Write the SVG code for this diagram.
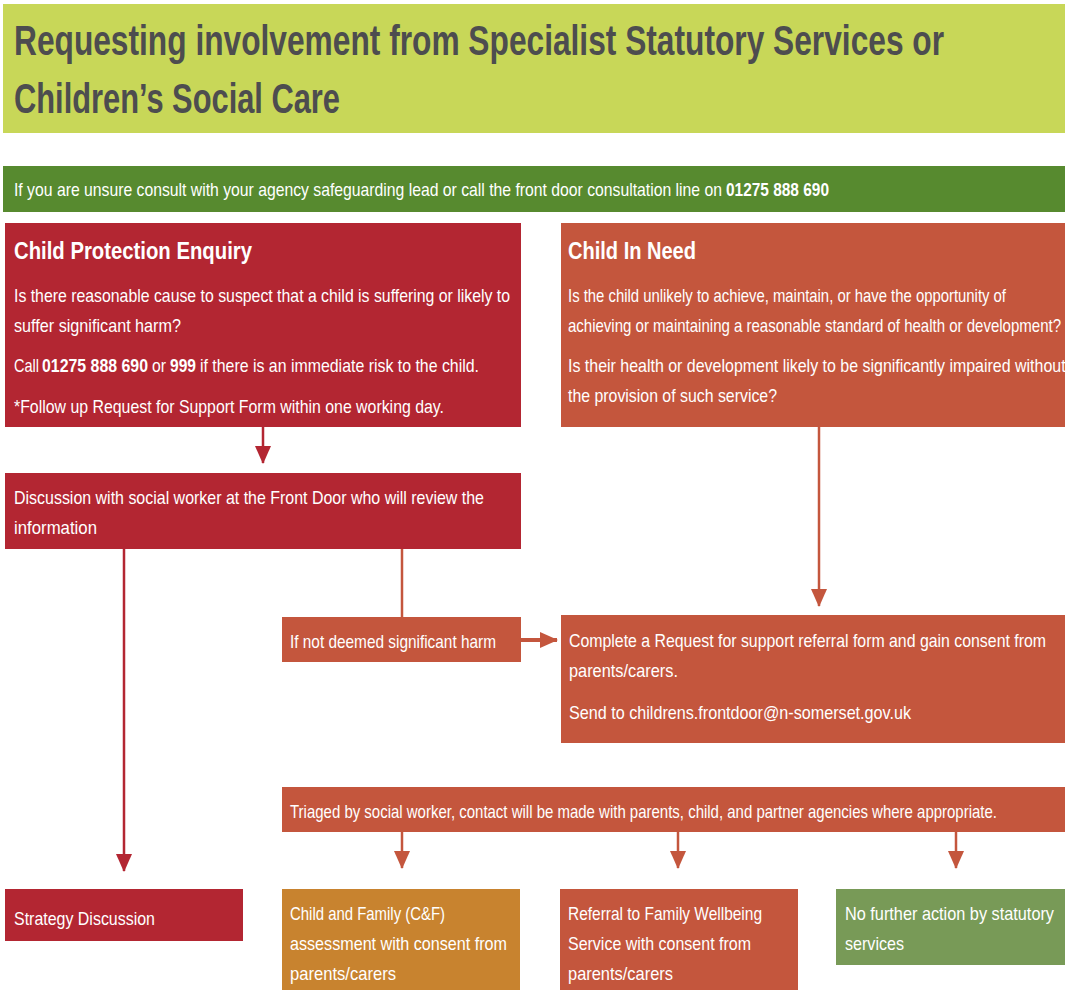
<svg xmlns="http://www.w3.org/2000/svg" width="1065" height="990" viewBox="0 0 1065 990">
<style>
.t{font-family:"Liberation Sans",Arial,sans-serif;fill:#ffffff;font-size:18px}
.b{font-weight:bold}
.h{font-family:"Liberation Sans",Arial,sans-serif;fill:#ffffff;font-size:24px;font-weight:bold}
.ttl{font-family:"Liberation Sans",Arial,sans-serif;fill:#4d4d4f;font-size:42px;font-weight:bold}
.red{fill:#b32632}
.org{fill:#c4563d}
.cl{fill:none;stroke-width:2.5}
</style>
<defs>
<marker id="ar" viewBox="0 0 18 16" refX="17" refY="8" markerWidth="18" markerHeight="16" markerUnits="userSpaceOnUse" orient="auto">
<path d="M0,0 L18,8 L0,16 Z" fill="#b32632"/>
</marker>
<marker id="ao" viewBox="0 0 18 16" refX="17" refY="8" markerWidth="18" markerHeight="16" markerUnits="userSpaceOnUse" orient="auto">
<path d="M0,0 L18,8 L0,16 Z" fill="#c4563d"/>
</marker>
</defs>
<rect width="1065" height="990" fill="#ffffff"/>

<g id="title">
<rect x="3" y="4" width="1062" height="129" fill="#c8d758"/>
<text class="ttl" transform="translate(14,55) scale(0.72,1)" textLength="1291.7" lengthAdjust="spacingAndGlyphs">Requesting involvement from Specialist Statutory Services or</text>
<text class="ttl" transform="translate(14,113) scale(0.72,1)" textLength="452.8" lengthAdjust="spacingAndGlyphs">Children’s Social Care</text>
</g>

<g id="consult">
<rect x="3" y="166" width="1062" height="46" fill="#578a2f"/>
<text class="t" transform="translate(14,196) scale(0.8,1)" textLength="885" lengthAdjust="spacingAndGlyphs">If you are unsure consult with your agency safeguarding lead or call the front door consultation line on</text>
<text class="t b" transform="translate(726,196) scale(0.8,1)" textLength="128.75" lengthAdjust="spacingAndGlyphs">01275 888 690</text>
</g>

<g id="connectors">
<line class="cl" x1="263" y1="427" x2="263" y2="463" stroke="#b32632" marker-end="url(#ar)"/>
<line class="cl" x1="124" y1="549" x2="124" y2="871" stroke="#b32632" marker-end="url(#ar)"/>
<line class="cl" x1="402" y1="549" x2="402" y2="617" stroke="#c4563d"/>
<line x1="521" y1="640" x2="557" y2="640" stroke="#c4563d" stroke-width="4" marker-end="url(#ao)"/>
<line class="cl" x1="819" y1="427" x2="819" y2="606" stroke="#c4563d" marker-end="url(#ao)"/>
<line class="cl" x1="402" y1="832" x2="402" y2="868" stroke="#c4563d" marker-end="url(#ao)"/>
<line class="cl" x1="678" y1="832" x2="678" y2="868" stroke="#c4563d" marker-end="url(#ao)"/>
<line class="cl" x1="956" y1="832" x2="956" y2="868" stroke="#c4563d" marker-end="url(#ao)"/>
</g>

<g id="cp">
<rect class="red" x="5" y="223" width="516" height="204"/>
<text class="h" transform="translate(14,259) scale(0.8,1)" textLength="297.5" lengthAdjust="spacingAndGlyphs">Child Protection Enquiry</text>
<text class="t" transform="translate(14,302) scale(0.8,1)" textLength="620" lengthAdjust="spacingAndGlyphs">Is there reasonable cause to suspect that a child is suffering or likely to</text>
<text class="t" transform="translate(14,332) scale(0.8,1)" textLength="208.75" lengthAdjust="spacingAndGlyphs">suffer significant harm?</text>
<text class="t" transform="translate(14,372) scale(0.8,1)" textLength="31.25" lengthAdjust="spacingAndGlyphs">Call</text>
<text class="t b" transform="translate(42,372) scale(0.8,1)" textLength="132.5" lengthAdjust="spacingAndGlyphs">01275 888 690</text>
<text class="t" transform="translate(152,372) scale(0.8,1)" textLength="17.5" lengthAdjust="spacingAndGlyphs">or</text>
<text class="t b" transform="translate(170,372) scale(0.8,1)" textLength="32.5" lengthAdjust="spacingAndGlyphs">999</text>
<text class="t" transform="translate(200,372) scale(0.8,1)" textLength="348.75" lengthAdjust="spacingAndGlyphs">if there is an immediate risk to the child.</text>
<text class="t" transform="translate(14,413) scale(0.8,1)" textLength="537.5" lengthAdjust="spacingAndGlyphs">*Follow up Request for Support Form within one working day.</text>
</g>

<g id="discussion">
<rect class="red" x="5" y="473" width="516" height="76"/>
<text class="t" transform="translate(14,504) scale(0.8,1)" textLength="587.5" lengthAdjust="spacingAndGlyphs">Discussion with social worker at the Front Door who will review the</text>
<text class="t" transform="translate(14,534) scale(0.8,1)" textLength="103.75" lengthAdjust="spacingAndGlyphs">information</text>
</g>

<g id="cin">
<rect class="org" x="561" y="223" width="504" height="204"/>
<text class="h" transform="translate(568,259) scale(0.8,1)" textLength="160" lengthAdjust="spacingAndGlyphs">Child In Need</text>
<text class="t" transform="translate(568,302) scale(0.8,1)" textLength="547.5" lengthAdjust="spacingAndGlyphs">Is the child unlikely to achieve, maintain, or have the opportunity of</text>
<text class="t" transform="translate(568,332) scale(0.8,1)" textLength="616.25" lengthAdjust="spacingAndGlyphs">achieving or maintaining a reasonable standard of health or development?</text>
<text class="t" transform="translate(568,372) scale(0.8,1)" textLength="622" lengthAdjust="spacingAndGlyphs">Is their health or development likely to be significantly impaired without</text>
<text class="t" transform="translate(568,402) scale(0.8,1)" textLength="261.25" lengthAdjust="spacingAndGlyphs">the provision of such service?</text>
</g>

<g id="notharm">
<rect class="org" x="282" y="617" width="239" height="45"/>
<text class="t" transform="translate(290,648) scale(0.8,1)" textLength="257.5" lengthAdjust="spacingAndGlyphs">If not deemed significant harm</text>
</g>

<g id="complete">
<rect class="org" x="561" y="615" width="504" height="128"/>
<text class="t" transform="translate(569,647) scale(0.8,1)" textLength="596.25" lengthAdjust="spacingAndGlyphs">Complete a Request for support referral form and gain consent from</text>
<text class="t" transform="translate(569,677) scale(0.8,1)" textLength="136.25" lengthAdjust="spacingAndGlyphs">parents/carers.</text>
<text class="t" transform="translate(569,719) scale(0.8,1)" textLength="427.5" lengthAdjust="spacingAndGlyphs">Send to childrens.frontdoor@n-somerset.gov.uk</text>
</g>

<g id="triaged">
<rect class="org" x="282" y="787" width="783" height="45"/>
<text class="t" transform="translate(290,818) scale(0.8,1)" textLength="883.75" lengthAdjust="spacingAndGlyphs">Triaged by social worker, contact will be made with parents, child, and partner agencies where appropriate.</text>
</g>

<g id="strategy">
<rect class="red" x="5" y="889" width="238" height="52"/>
<text class="t" transform="translate(14,925) scale(0.8,1)" textLength="176.25" lengthAdjust="spacingAndGlyphs">Strategy Discussion</text>
</g>

<g id="cf">
<rect x="282" y="889" width="238" height="101" fill="#c8832f"/>
<text class="t" transform="translate(290,920) scale(0.8,1)" textLength="193.75" lengthAdjust="spacingAndGlyphs">Child and Family (C&amp;F)</text>
<text class="t" transform="translate(290,950) scale(0.8,1)" textLength="271.25" lengthAdjust="spacingAndGlyphs">assessment with consent from</text>
<text class="t" transform="translate(290,980) scale(0.8,1)" textLength="132.5" lengthAdjust="spacingAndGlyphs">parents/carers</text>
</g>

<g id="fws">
<rect class="org" x="560" y="889" width="238" height="101"/>
<text class="t" transform="translate(568,920) scale(0.8,1)" textLength="242.5" lengthAdjust="spacingAndGlyphs">Referral to Family Wellbeing</text>
<text class="t" transform="translate(568,950) scale(0.8,1)" textLength="228.75" lengthAdjust="spacingAndGlyphs">Service with consent from</text>
<text class="t" transform="translate(568,980) scale(0.8,1)" textLength="131.25" lengthAdjust="spacingAndGlyphs">parents/carers</text>
</g>

<g id="nfa">
<rect x="836" y="889" width="229" height="76" fill="#789a57"/>
<text class="t" transform="translate(845,920) scale(0.8,1)" textLength="261.25" lengthAdjust="spacingAndGlyphs">No further action by statutory</text>
<text class="t" transform="translate(845,950) scale(0.8,1)" textLength="73.75" lengthAdjust="spacingAndGlyphs">services</text>
</g>
</svg>
